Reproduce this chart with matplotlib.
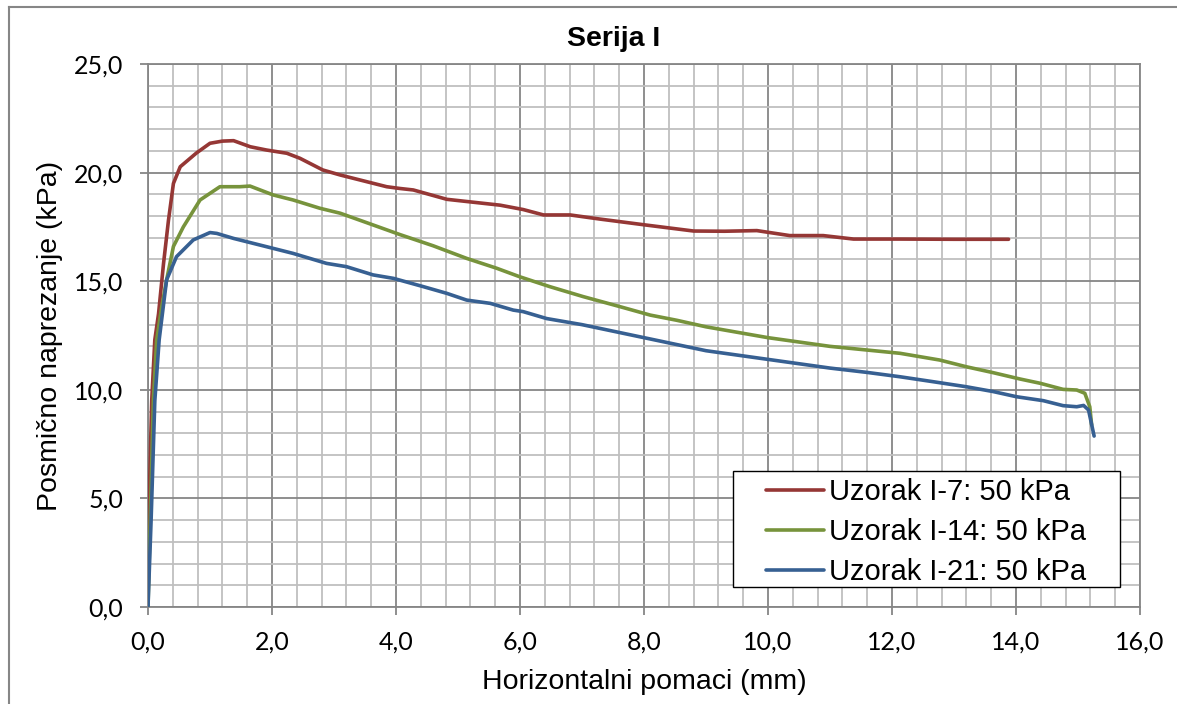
import matplotlib

matplotlib.use('Agg')

import matplotlib.pyplot as plt
from matplotlib.lines import Line2D
from matplotlib.patches import Rectangle
from matplotlib.ticker import MultipleLocator, FuncFormatter


# Serija I - posmicno naprezanje vs horizontalni pomaci
X_I7 = [0.0, 0.02, 0.06, 0.11, 0.17, 0.25, 0.33, 0.41, 0.52, 0.78, 1.0, 1.2,
        1.38, 1.65, 1.91, 2.24, 2.45, 2.82, 3.1, 3.53, 3.85, 4.06, 4.28,
        4.82, 5.68, 6.05, 6.38, 6.81, 7.29, 8.02, 8.8, 9.3, 9.82, 10.35,
        10.89, 11.38, 12.13, 13.0, 13.88]
Y_I7 = [0.0, 5.0, 9.5, 12.3, 13.5, 15.8, 17.8, 19.5, 20.27, 20.9, 21.35,
        21.45, 21.47, 21.19, 21.04, 20.89, 20.66, 20.12, 19.89, 19.58, 19.35,
        19.27, 19.2, 18.77, 18.5, 18.3, 18.05, 18.05, 17.86, 17.59, 17.31,
        17.3, 17.33, 17.1, 17.1, 16.94, 16.94, 16.93, 16.93]

X_I14 = [0.0, 0.04, 0.086, 0.14, 0.22, 0.3, 0.41, 0.57, 0.84, 1.16, 1.48,
         1.645, 2.02, 2.34, 2.77, 3.1, 3.63, 4.06, 4.6, 5.14, 5.62, 6.0,
         6.48, 7.02, 7.61, 8.1, 8.53, 9.0, 9.5, 10.0, 11.0, 12.13, 12.77,
         13.2, 13.63, 14.06, 14.39, 14.76, 14.98, 15.11, 15.19, 15.22]
Y_I14 = [0.0, 4.5, 9.5, 12.3, 13.8, 15.06, 16.6, 17.5, 18.74, 19.35, 19.35,
         19.38, 18.97, 18.74, 18.36, 18.13, 17.59, 17.15, 16.63, 16.05,
         15.6, 15.2, 14.75, 14.29, 13.83, 13.44, 13.2, 12.9, 12.65, 12.4,
         12.0, 11.68, 11.37, 11.06, 10.79, 10.5, 10.3, 10.02, 9.99, 9.84,
         9.22, 8.38]

X_I21 = [0.0, 0.05, 0.11, 0.18, 0.3, 0.46, 0.73, 1.0, 1.11, 1.38, 1.91,
         2.34, 2.88, 3.2, 3.63, 3.96, 4.44, 4.82, 5.14, 5.52, 5.89, 6.05,
         6.43, 7.0, 7.5, 8.0, 9.0, 10.0, 11.0, 11.6, 12.13, 12.67, 13.2,
         13.63, 14.01, 14.44, 14.76, 14.98, 15.09, 15.17, 15.26]
Y_I21 = [0.0, 4.0, 9.5, 12.3, 15.06, 16.13, 16.9, 17.24, 17.2, 16.97, 16.59,
         16.28, 15.82, 15.67, 15.29, 15.13, 14.75, 14.44, 14.13, 13.98,
         13.67, 13.6, 13.28, 13.0, 12.7, 12.4, 11.8, 11.4, 11.0, 10.8, 10.6,
         10.37, 10.14, 9.92, 9.68, 9.5, 9.27, 9.22, 9.28, 9.07, 7.87]

LABELS = ['Uzorak I-7: 50 kPa', 'Uzorak I-14: 50 kPa', 'Uzorak I-21: 50 kPa']
COLORS = ['#953735', '#77933C', '#376092']

TEXT_FONT = 'Liberation Sans'
TICK_FONT = 'Lato'
W, H = 1177, 704


def comma_fmt(v, pos):
    return f'{v:.1f}'.replace('.', ',')


def main():
    fig = plt.figure(figsize=(W / 100, H / 100), dpi=100)
    ax = fig.add_axes([148 / W, 1 - 607 / H, (1140 - 148) / W, (607 - 64) / H])

    series = [(X_I7, Y_I7), (X_I14, Y_I14), (X_I21, Y_I21)]
    for (xs, ys), label, color in zip(series, LABELS, COLORS):
        ax.plot(xs, ys, color=color, linewidth=2.6, label=label,
                solid_joinstyle='round', solid_capstyle='round', zorder=3)

    ax.set_xlim(0, 16)
    ax.set_ylim(0, 25)
    ax.xaxis.set_major_locator(MultipleLocator(2.0))
    ax.xaxis.set_minor_locator(MultipleLocator(0.4))
    ax.yaxis.set_major_locator(MultipleLocator(5.0))
    ax.yaxis.set_minor_locator(MultipleLocator(1.0))
    ax.xaxis.set_major_formatter(FuncFormatter(comma_fmt))
    ax.yaxis.set_major_formatter(FuncFormatter(comma_fmt))

    ax.grid(which='minor', color='#BFBFBF', linewidth=1.3, zorder=0)
    ax.grid(which='major', color='#868686', linewidth=1.3, zorder=1)
    ax.set_axisbelow(True)
    for side in ax.spines.values():
        side.set_color('#868686')
        side.set_linewidth(1.3)

    ax.tick_params(which='major', length=6, width=1.3, color='#868686',
                   labelsize=18)
    ax.tick_params(which='minor', length=0)
    ax.tick_params(axis='y', which='major', pad=12)
    ax.tick_params(axis='x', which='major', pad=11)
    for lbl in ax.get_xticklabels() + ax.get_yticklabels():
        lbl.set_fontfamily(TICK_FONT)

    ax.set_xlabel('Horizontalni pomaci (mm)', fontsize=20.5,
                  fontfamily=TEXT_FONT)
    ax.xaxis.set_label_coords(0.5, -0.115)
    ax.set_ylabel('Posmično naprezanje (kPa)', fontsize=20.5,
                  fontfamily=TEXT_FONT)
    ax.yaxis.set_label_coords(-0.086, 0.5)

    fig.text(613.7 / W, 1 - 38.5 / H, 'Serija I', ha='center', va='center',
             fontsize=20.5, fontweight='bold', fontfamily=TEXT_FONT)

    # legend box drawn on its own, Excel keeps a wide left margin
    box_x0 = (733 - 148) / 992
    box_x1 = (1120 - 148) / 992
    box_y0 = (607 - 587) / 543
    box_y1 = (607 - 471) / 543
    ax.add_patch(Rectangle((box_x0, box_y0), box_x1 - box_x0, box_y1 - box_y0,
                           transform=ax.transAxes, facecolor='white',
                           edgecolor='black', linewidth=1.0, zorder=4))
    leg = ax.legend(loc='center left',
                    bbox_to_anchor=((766 - 148) / 992,
                                    (box_y0 + box_y1) / 2 - 3 / 543),
                    borderaxespad=0, borderpad=0, frameon=False,
                    handlelength=2.0, handletextpad=0.15, labelspacing=0.42,
                    prop={'family': TEXT_FONT, 'size': 21})
    leg.set_zorder(5)

    # outer chart border (Excel chart area)
    bx = 9 / W
    by = 1 - 7 / H
    fig.add_artist(Line2D([bx, 1.0], [by, by], transform=fig.transFigure,
                          color='#868686', linewidth=1.5))
    fig.add_artist(Line2D([bx, bx], [0.0, by], transform=fig.transFigure,
                          color='#868686', linewidth=1.5))

    fig.savefig('out.png', dpi=100)
    plt.close(fig)


if __name__ == '__main__':
    main()
